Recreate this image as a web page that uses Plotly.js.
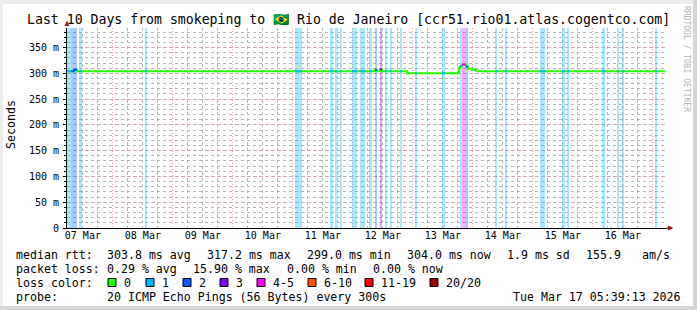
<!DOCTYPE html>
<html><head><meta charset="utf-8">
<script src="https://cdn.plot.ly/plotly-3.0.1.min.js"></script>
<style>html,body{margin:0;padding:0;background:#fff;overflow:hidden}</style>
</head><body><div id="chart" style="width:697px;height:310px"></div>
<script>
// ---------------- data ----------------
const startTime = "2026-03-07 05:39:13";
const endTime = "2026-03-17 05:39:13";
const titleText = "Last 10 Days from smokeping to \u{1F1E7}\u{1F1F7} Rio de Janeiro [ccr51.rio01.atlas.cogentco.com]";

// median rtt (ms), step changes
const rttTime = ["2026-03-07 05:39","2026-03-07 08:27","2026-03-07 09:39","2026-03-12 08:51","2026-03-12 09:39",
  "2026-03-12 10:51","2026-03-12 11:39","2026-03-12 21:39","2026-03-13 18:27","2026-03-13 18:51","2026-03-13 19:39",
  "2026-03-13 21:15","2026-03-13 22:03","2026-03-13 23:39","2026-03-14 01:15","2026-03-14 02:03","2026-03-17 04:51"];
const rttValue = [304,307,304,307,304,308,304,300,310,314,317,313,309,307,305,304,304];

// packet loss intervals (out of 20 pings)
const lossStart = ["2026-03-07 05:39","2026-03-07 07:15","2026-03-07 10:27","2026-03-08 12:51","2026-03-11 00:51",
  "2026-03-11 14:51","2026-03-11 16:51","2026-03-11 18:51","2026-03-11 23:39","2026-03-12 02:51","2026-03-12 06:27",
  "2026-03-12 08:51","2026-03-12 10:51","2026-03-12 12:51","2026-03-12 14:51","2026-03-12 18:51","2026-03-13 00:51",
  "2026-03-13 11:39","2026-03-13 18:51","2026-03-13 19:39","2026-03-13 21:15","2026-03-14 08:51","2026-03-14 12:51",
  "2026-03-15 02:51","2026-03-15 11:39","2026-03-15 13:39","2026-03-16 03:39","2026-03-16 09:51","2026-03-16 11:51",
  "2026-03-17 00:51"];
const lossEnd = ["2026-03-07 07:15","2026-03-07 09:39","2026-03-07 11:39","2026-03-08 13:39","2026-03-11 03:39",
  "2026-03-11 16:03","2026-03-11 17:39","2026-03-11 19:39","2026-03-12 01:39","2026-03-12 04:51","2026-03-12 07:39",
  "2026-03-12 09:39","2026-03-12 11:39","2026-03-12 13:39","2026-03-12 15:39","2026-03-12 19:39","2026-03-13 01:39",
  "2026-03-13 12:51","2026-03-13 19:39","2026-03-13 21:15","2026-03-13 22:03","2026-03-14 09:39","2026-03-14 13:39",
  "2026-03-15 04:51","2026-03-15 12:51","2026-03-15 14:27","2026-03-16 04:51","2026-03-16 10:39","2026-03-16 12:39",
  "2026-03-17 01:39"];
const lossCount = [1,2,1,1,1, 1,1,1,1,1,1, 2,3,1,1,1,1, 1,1,5,2,1,1, 1,1,1,1,1,1, 1];

const yTickValues = [0,50,100,150,200,250,300,350];
const yTickLabels = ["0","50 m","100 m","150 m","200 m","250 m","300 m","350 m"];

const lossLegendLabels = ["0","1","2","3","4-5","6-10","11-19","20/20"];
const lossLegendColors = ["#26ff00","#00b8ff","#0059ff","#7e00ff","#ff00ff","#ff5500","#ff0000","#a10000"];

const rttStatLabels = ["median rtt:","303.8 ms avg","317.2 ms max","299.0 ms min","304.0 ms now","1.9 ms sd","155.9","am/s"];
const lossStatLabels = ["packet loss:","0.29 % avg","15.90 % max","0.00 % min","0.00 % now"];
const probeLabels = ["probe:","20 ICMP Echo Pings (56 Bytes) every 300s"];
const stampLabel = "Tue Mar 17 05:39:13 2026";
const watermark = "RRDTOOL / TOBI OETIKER";

// ---------------- layout constants ----------------
const W = 697, H = 310, L = 67, R = 30, T = 28, B = 82;
const PW = W - L - R, PH = H - T - B;
const Y_MAX = 388;
const MONO = "DejaVu Sans Mono, monospace";
const px2x = p => (p - L) / PW;
const py2y = p => (H - B - p) / PH;

const toMs = s => Date.parse(s.replace(" ", "T") + (s.length === 16 ? ":00Z" : "Z"));
const rttMs = rttTime.map(toMs);
function medianAt(t) {
  let v = rttValue[0];
  for (let i = 0; i < rttMs.length; i++) { if (rttMs[i] <= t) v = rttValue[i]; }
  return v;
}
function levelIndex(n) {
  if (n <= 3) return n;
  if (n <= 5) return 4;
  if (n <= 10) return 5;
  if (n <= 19) return 6;
  return 7;
}
function hexA(hex, a) {
  const r = parseInt(hex.slice(1,3),16), g = parseInt(hex.slice(3,5),16), b = parseInt(hex.slice(5,7),16);
  return `rgba(${r},${g},${b},${a})`;
}

// loss background bars
const bx = [], bw = [], by = [], bc = [];
lossStart.forEach((s, i) => {
  const a = toMs(s), e = toMs(lossEnd[i]);
  bx.push((a + e) / 2); bw.push(e - a); by.push(Y_MAX);
  bc.push(hexA(lossLegendColors[levelIndex(lossCount[i])], 0.33));
});

const traces = [];
traces.push({type: "bar", x: bx, y: by, width: bw, base: 0, marker: {color: bc, line: {width: 0}},
  hoverinfo: "skip", showlegend: false, xaxis: "x", yaxis: "y"});

// median line (green)
traces.push({type: "scatter", mode: "lines", x: rttMs, y: rttValue, line: {color: lossLegendColors[0], width: 2, shape: "hv"},
  hoverinfo: "skip", showlegend: false});

// median line coloured by loss
const segByLevel = {};
lossStart.forEach((s, i) => {
  const a = toMs(s), e = toMs(lossEnd[i]);
  const lv = levelIndex(lossCount[i]);
  if (!segByLevel[lv]) segByLevel[lv] = {x: [], y: []};
  const sg = segByLevel[lv];
  sg.x.push(a); sg.y.push(medianAt(a));
  rttMs.forEach((t, k) => { if (t > a && t < e) { sg.x.push(t); sg.y.push(rttValue[k]); } });
  sg.x.push(e); sg.y.push(medianAt(e - 1));
  sg.x.push(null); sg.y.push(null);
});
Object.keys(segByLevel).forEach(lv => {
  traces.push({type: "scatter", mode: "lines", x: segByLevel[lv].x, y: segByLevel[lv].y,
    line: {color: lossLegendColors[lv], width: 2, shape: "hv"}, connectgaps: false, hoverinfo: "skip", showlegend: false});
});

// invisible trace for label axis
traces.push({type: "scatter", mode: "markers", x: [toMs(startTime)], y: [0], xaxis: "x2", yaxis: "y",
  marker: {opacity: 0}, hoverinfo: "skip", showlegend: false});

// ---------------- annotations ----------------
const ann = [];
function txt(text, xp, yp, opts) {
  ann.push(Object.assign({text: text, xref: "paper", yref: "paper", x: px2x(xp), y: py2y(yp),
    xanchor: "left", yanchor: "middle", showarrow: false, borderpad: 0, borderwidth: 0,
    font: {family: MONO, size: 11.6, color: "#000"}}, opts || {}));
}
txt(titleText, 348, 19.5, {xanchor: "center", font: {family: MONO, size: 13.2, color: "#000"}});
txt("Seconds", 11, 125, {xanchor: "center", textangle: -90});
txt(watermark, 687, 59, {xanchor: "center", textangle: 90, font: {family: MONO, size: 8, color: "#b4b4b4"}});

const rowY = [254.5, 268.5, 282.5, 296.5];
const rttStatX = [16,107,207,307,407,507,586,642];
rttStatLabels.forEach((t, i) => txt(t, rttStatX[i], rowY[0]));
const lossStatX = [16,107,193,287,373];
lossStatLabels.forEach((t, i) => txt(t, lossStatX[i], rowY[1]));
txt("loss color:", 16, rowY[2]);
const swatchX = [108,146,183,220,257,308,365,430];
const shapes = [];
lossLegendLabels.forEach((t, i) => {
  shapes.push({type: "rect", xref: "paper", yref: "paper", x0: px2x(swatchX[i]), x1: px2x(swatchX[i] + 8),
    y0: py2y(rowY[2] + 4), y1: py2y(rowY[2] - 4), fillcolor: lossLegendColors[i], line: {color: "#000", width: 1}});
  txt(t, swatchX[i] + 16, rowY[2]);
});
txt(probeLabels[0], 16, rowY[3]);
txt(probeLabels[1], 107, rowY[3]);
txt(stampLabel, 681, rowY[3], {xanchor: "right"});

// arrows
const arrowColor = "#9b1c1c";
shapes.push({type: "path", xref: "paper", yref: "paper",
  path: `M ${px2x(64.5)} ${py2y(26)} L ${px2x(67)} ${py2y(20.5)} L ${px2x(69.5)} ${py2y(26)} Z`,
  fillcolor: arrowColor, line: {width: 0}});
shapes.push({type: "line", xref: "paper", yref: "paper", x0: 1, x1: px2x(669), y0: 0, y1: 0, line: {color: "#000", width: 1}});
shapes.push({type: "path", xref: "paper", yref: "paper",
  path: `M ${px2x(668)} ${py2y(225.5)} L ${px2x(673.5)} ${py2y(228)} L ${px2x(668)} ${py2y(230.5)} Z`,
  fillcolor: arrowColor, line: {width: 0}});
// frame
shapes.push({type: "rect", xref: "paper", yref: "paper", x0: px2x(0), x1: px2x(W), y0: py2y(4), y1: py2y(0), fillcolor: "#ececec", line: {width: 0}});
shapes.push({type: "rect", xref: "paper", yref: "paper", x0: px2x(0), x1: px2x(3), y0: py2y(H), y1: py2y(0), fillcolor: "#ececec", line: {width: 0}});
shapes.push({type: "rect", xref: "paper", yref: "paper", x0: px2x(W - 4), x1: px2x(W), y0: py2y(H), y1: py2y(0), fillcolor: "#d6d6d6", line: {width: 0}});
shapes.push({type: "rect", xref: "paper", yref: "paper", x0: px2x(0), x1: px2x(W), y0: py2y(H), y1: py2y(H - 4), fillcolor: "#d6d6d6", line: {width: 0}});

const majorGrid = "#eba4a4", minorGrid = "#b8b8b8", dash = "1px,2px";
const layout = {
  width: W, height: H,
  margin: {l: L, r: R, t: T, b: B, pad: 0},
  paper_bgcolor: "#ffffff", plot_bgcolor: "#ffffff",
  showlegend: false, barmode: "overlay", bargap: 0,
  font: {family: MONO, size: 10, color: "#000"},
  xaxis: {type: "date", range: [toMs(startTime), toMs(endTime)], tickmode: "linear",
    tick0: "2026-03-07", dtick: 86400000, showticklabels: false, ticks: "",
    showgrid: true, gridcolor: majorGrid, griddash: dash, gridwidth: 1,
    minor: {dtick: 21600000, tick0: "2026-03-07", showgrid: true, gridcolor: minorGrid, griddash: "dot", gridwidth: 1},
    showline: true, linecolor: "#000", linewidth: 1, zeroline: false, fixedrange: true},
  xaxis2: {type: "date", overlaying: "x", anchor: "y", side: "bottom",
    range: [toMs(startTime), toMs(endTime)], tickmode: "linear", tick0: "2026-03-07 12:00", dtick: 86400000,
    tickformat: "%d %b", showgrid: false, ticks: "", showline: false, zeroline: false,
    tickfont: {family: MONO, size: 10, color: "#000"}, ticklabelstandoff: 0, fixedrange: true},
  yaxis: {range: [0, Y_MAX], tickmode: "array", tickvals: yTickValues, ticktext: yTickLabels,
    showgrid: true, gridcolor: majorGrid, griddash: dash, gridwidth: 1,
    ticks: "outside", ticklen: 3, tickcolor: "#000", tickwidth: 1,
    minor: {dtick: 10, tick0: 0, showgrid: true, gridcolor: minorGrid, griddash: "dot", gridwidth: 1, ticks: "outside", ticklen: 2, tickcolor: "#000"},
    showline: true, linecolor: "#000", linewidth: 1, zeroline: false,
    tickfont: {family: MONO, size: 10, color: "#000"}, ticklabelstandoff: 2, fixedrange: true},
  annotations: ann,
  shapes: shapes
};
Plotly.newPlot("chart", traces, layout, {staticPlot: true, displayModeBar: false});
</script>
</body></html>
